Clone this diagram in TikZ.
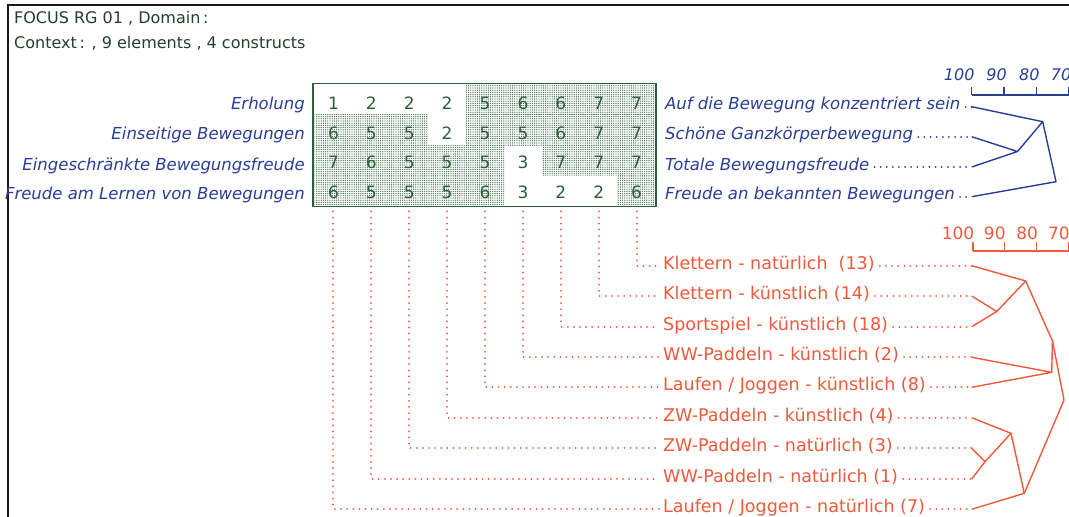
\documentclass[tikz,border=0pt]{standalone}
\usepackage{fontspec}
\setmainfont{DejaVu Sans}
\usetikzlibrary{patterns.meta}
\definecolor{gdark}{RGB}{45,95,58}
\definecolor{hdr}{RGB}{38,62,44}
\definecolor{cblue}{RGB}{42,62,150}
\definecolor{cred}{RGB}{240,90,60}
\definecolor{framec}{RGB}{25,25,25}
\begin{document}
\begin{tikzpicture}[x=1pt,y=-1pt,
  hdrtext/.style={anchor=base west, inner sep=0, text=hdr, font=\fontsize{16}{18}\selectfont},
  clbl/.style={inner sep=0, text=cblue, font=\fontsize{16.5}{18}\selectfont\itshape, text height=9.5pt, text depth=3pt},
  digit/.style={anchor=base, inner sep=0, text=gdark, font=\fontsize{17}{18}\selectfont},
  elbl/.style={anchor=west, inner sep=0, text=cred, font=\fontsize{17.5}{19}\selectfont, text height=10.2pt, text depth=3pt},
  bnum/.style={anchor=base east, inner sep=0, text=cblue, font=\fontsize{16}{17}\selectfont\itshape},
  rnum/.style={anchor=base east, inner sep=0, text=cred, font=\fontsize{17}{18}\selectfont},
  bline/.style={draw=cblue, line width=1.4pt, line join=round},
  rline/.style={draw=cred, line width=1.4pt, line join=round},
  bdots/.style={draw=cblue, line width=2pt, line cap=round, dash pattern=on 0.01pt off 6.1pt},
  rdots/.style={draw=cred, line width=2pt, line cap=round, dash pattern=on 0.01pt off 6.1pt},
  cellshade/.style={pattern={Dots[distance=2.2pt, radius=0.68pt]}, pattern color=gdark!90}
]
\useasboundingbox (0,0) rectangle (1069,517);
\fill[white] (0,0) rectangle (1069,517);

% frame
\draw[framec, line width=2pt] (7.5,520) -- (7.5,4.5) -- (1075,4.5);

% header
\node[hdrtext] (h1) at (14,23.5) {FOCUS RG 01 , Domain\,:};
\node[hdrtext] (h2) at (14,48.5) {Context\,: , 9 elements , 4 constructs};

% grid cells
\foreach \row [count=\r from 0] in {{1,2,2,2,5,6,6,7,7},{6,5,5,2,5,5,6,7,7},{7,6,5,5,5,3,7,7,7},{6,5,5,5,6,3,2,2,6}} {
  \foreach \v [count=\c from 0] in \row {
    \ifnum\v>3
      \path[cellshade] ({314.5+37.9*\c},{84.5+30.25*\r}) rectangle ++(37.9,30.25);
    \fi
    \node[digit] (g\r\c) at ({333.45+37.9*\c},{109.5+29.7*\r}) {\v};
  }
}
\node[draw=gdark, line width=1.8pt, inner sep=0, minimum width=343pt, minimum height=123pt] (grid) at (484.5,145) {};

% construct labels
\node[clbl, anchor=east] (cl1) at (305,106.7) {Erholung};
\node[clbl, anchor=east] (cl2) at (305,136.7) {Einseitige Bewegungen};
\node[clbl, anchor=east] (cl3) at (305,167) {Eingeschränkte Bewegungsfreude};
\node[clbl, anchor=east] (cl4) at (305,196.7) {Freude am Lernen von Bewegungen};
\node[clbl, anchor=west] (cr1) at (665,106.7) {Auf die Bewegung konzentriert sein};
\node[clbl, anchor=west] (cr2) at (665,136.7) {Schöne Ganzkörperbewegung};
\node[clbl, anchor=west] (cr3) at (665,167) {Totale Bewegungsfreude};
\node[clbl, anchor=west] (cr4) at (665,196.7) {Freude an bekannten Bewegungen};

% blue leaves and dendrogram
\coordinate (bl1) at (971.7,106.7);
\coordinate (bl2) at (971.7,136.7);
\coordinate (bl3) at (971.7,167);
\coordinate (bl4) at (971.7,196.7);
\foreach \i in {1,...,4} { \draw[bdots] ([xshift=5pt]cr\i.east) -- (bl\i); }
\coordinate (bA) at (1017.5,151.5);
\coordinate (bB) at (1042.7,121.7);
\coordinate (bC) at (1056,181.7);
\draw[bline] (bl2) -- (bA) -- (bl3);
\draw[bline] (bl1) -- (bB) -- (bA);
\draw[bline] (bB) -- (bC) -- (bl4);

% blue scale
\foreach \t/\lab [count=\i] in {971.7/100, 1004/90, 1036.7/80, 1068.5/70} {
  \node[bnum] (bs\i) at (\t+3,80.5) {\lab};
  \draw[bline] (\t,87) -- (\t,95);
}
\draw[bline] (971.7,95) -- (1075,95);

% element labels
\node[elbl] (e1) at (663,265.7) {Klettern - natürlich\ \ (13)};
\node[elbl] (e2) at (663,296) {Klettern - künstlich (14)};
\node[elbl] (e3) at (663,326.7) {Sportspiel - künstlich (18)};
\node[elbl] (e4) at (663,357.3) {WW-Paddeln - künstlich (2)};
\node[elbl] (e5) at (663,387.3) {Laufen / Joggen - künstlich (8)};
\node[elbl] (e6) at (663,417.7) {ZW-Paddeln - künstlich (4)};
\node[elbl] (e7) at (663,448.3) {ZW-Paddeln - natürlich (3)};
\node[elbl] (e8) at (663,479) {WW-Paddeln - natürlich (1)};
\node[elbl] (e9) at (663,509.3) {Laufen / Joggen - natürlich (7)};

% red leaves
\foreach \y [count=\i] in {265.7,296,326.7,357.3,387.3,417.7,448.3,479,509.3} {
  \coordinate (rl\i) at (971.7,\y);
}
\foreach \i in {1,...,9} {
  \pgfmathtruncatemacro\c{9-\i}
  \draw[rdots] (g3\c |- grid.south) ++(0,4) |- ([xshift=-4pt]e\i.west);
  \draw[rdots] ([xshift=5pt]e\i.east) -- (rl\i);
}

% red dendrogram
\coordinate (R1) at (996.7,311.5);
\coordinate (R2) at (1025.7,281);
\coordinate (R3) at (1051.7,372.3);
\coordinate (R4) at (1052.5,341);
\coordinate (R5) at (985,461.7);
\coordinate (R6) at (1011,433.3);
\coordinate (R7) at (1024.3,493.3);
\coordinate (Rt) at (1064,400);
\draw[rline] (rl2) -- (R1) -- (rl3);
\draw[rline] (rl1) -- (R2) -- (R1);
\draw[rline] (rl4) -- (R3) -- (rl5);
\draw[rline] (R2) -- (R4) -- (R3);
\draw[rline] (rl7) -- (R5) -- (rl8);
\draw[rline] (rl6) -- (R6) -- (R5);
\draw[rline] (R6) -- (R7) -- (rl9);
\draw[rline] (R4) -- (Rt) -- (R7);

% red scale
\foreach \t/\lab [count=\i] in {973/100, 1004.3/90, 1036.7/80, 1068.5/70} {
  \node[rnum] (rs\i) at (\t+1.5,239) {\lab};
  \draw[rline] (\t,242) -- (\t,251);
}
\draw[rline] (973,251) -- (1075,251);
\end{tikzpicture}
\end{document}
